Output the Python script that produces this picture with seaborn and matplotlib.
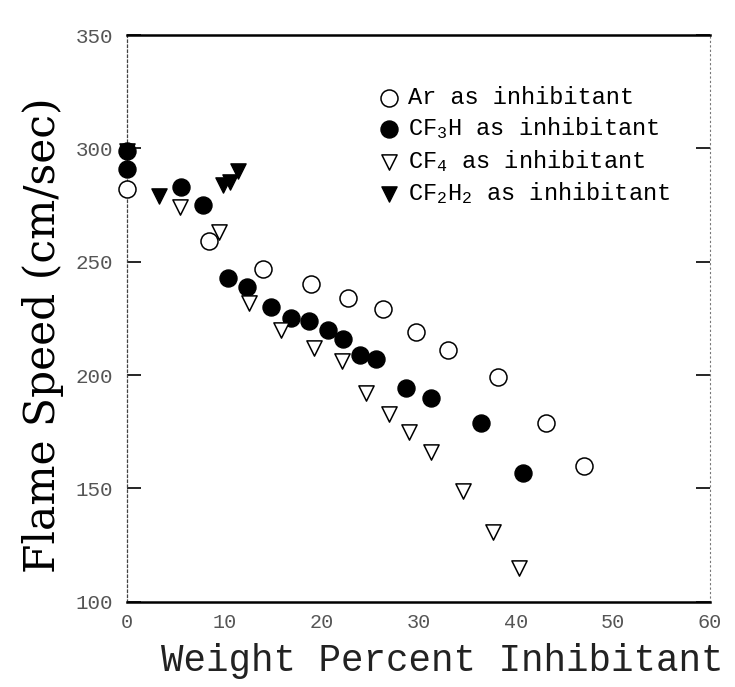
import matplotlib
matplotlib.use("Agg")
import matplotlib.pyplot as plt
import seaborn as sns
import pandas as pd

# ---- data ----
ar_x = [0.0, 8.4, 14.0, 18.9, 22.7, 26.3, 29.7, 33.0, 38.2, 43.1, 47.0]
ar_y = [282, 259, 247, 240, 234, 229, 219, 211, 199, 179, 160]

cf3h_x = [0.0, 0.0, 5.5, 7.8, 10.4, 12.3, 14.8, 16.9, 18.7, 20.7, 22.2, 24.0, 25.6, 28.7, 31.3, 36.4, 40.8]
cf3h_y = [299, 291, 283, 275, 243, 239, 230, 225, 224, 220, 216, 209, 207, 194.5, 190, 179, 157]

cf4_x = [5.4, 9.5, 12.5, 15.8, 19.2, 22.1, 24.6, 27.0, 29.0, 31.3, 34.6, 37.7, 40.3]
cf4_y = [274, 263, 232, 220, 212, 206, 192, 183, 175, 166, 149, 131, 115]

cf2h2_x = [0.0, 3.3, 9.9, 10.6, 11.4]
cf2h2_y = [299, 279, 284, 285, 290]

series_labels = ["Ar as inhibitant", "CF$_3$H as inhibitant",
                 "CF$_4$ as inhibitant", "CF$_2$H$_2$ as inhibitant"]
x_ticks = [0, 10, 20, 30, 40, 50, 60]
y_ticks = [100, 150, 200, 250, 300, 350]

sns.set_theme(style="white")
plt.rcParams["mathtext.default"] = "regular"
plt.rcParams["font.family"] = ["Liberation Mono", "DejaVu Sans"]

fig = plt.figure(figsize=(7.35, 6.87), dpi=100)
ax = fig.add_axes([0.173, 0.124, 0.793, 0.825])

frames = [
    (pd.DataFrame({"x": ar_x, "y": ar_y}), "o", "white", 150, 1.1),
    (pd.DataFrame({"x": cf3h_x, "y": cf3h_y}), "o", "black", 150, 1.0),
    (pd.DataFrame({"x": cf4_x, "y": cf4_y}), "v", "white", 120, 1.1),
    (pd.DataFrame({"x": cf2h2_x, "y": cf2h2_y}), "v", "black", 120, 1.0),
]
for (df, mk, fc, s, lw), lab in zip(frames, series_labels):
    sns.scatterplot(data=df, x="x", y="y", marker=mk, s=s, facecolor=fc,
                    edgecolor="black", linewidth=lw, label=lab, ax=ax,
                    clip_on=False, zorder=3)

ax.set_xlim(0, 60)
ax.set_ylim(100, 350)
ax.set_xticks(x_ticks)
ax.set_yticks(y_ticks)
ax.tick_params(axis="both", labelcolor="#555555")
ax.tick_params(axis="y", direction="in", length=10, width=1.2, color="black",
               right=True, left=True, pad=10, labelsize=15)
ax.tick_params(axis="x", length=0, pad=8, labelsize=14.5)

for side in ["top", "bottom"]:
    ax.spines[side].set_color("black")
    ax.spines[side].set_linewidth(1.8)
ax.spines["left"].set_color("#444444")
ax.spines["left"].set_linewidth(0.9)
ax.spines["left"].set_linestyle((0, (2, 2)))
ax.spines["right"].set_color("#777777")
ax.spines["right"].set_linewidth(0.8)
ax.spines["right"].set_linestyle((0, (1, 3)))

ax.set_xlabel("Weight Percent Inhibitant", fontsize=27, color="#222222")
ax.xaxis.set_label_coords(0.54, -0.072)
ax.set_ylabel("Flame Speed (cm/sec)", fontsize=30.5, family="DejaVu Serif",
              color="black")
ax.yaxis.set_label_coords(-0.108, 0.47)

leg = ax.legend(loc="upper left", bbox_to_anchor=(0.413, 0.927), frameon=False,
                fontsize=17, labelspacing=0.28, handletextpad=0.3,
                borderaxespad=0, handlelength=1.0)
for t in leg.get_texts():
    t.set_color("black")

fig.savefig("out.png", dpi=100)
